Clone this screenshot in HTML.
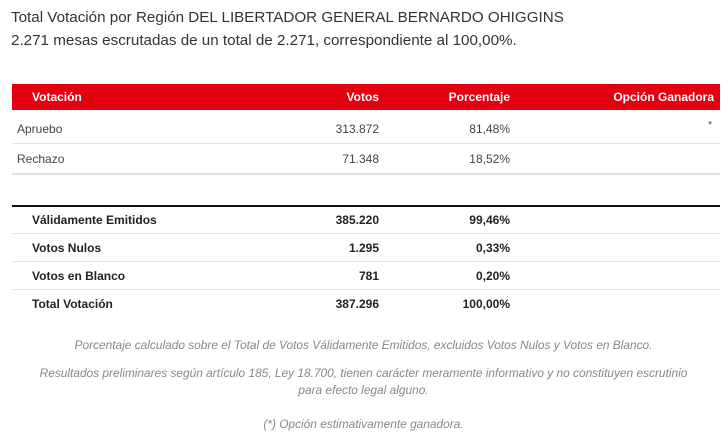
<!DOCTYPE html>
<html><head><meta charset="utf-8"><style>
body{margin:0;width:727px;height:441px;background:#fff;position:relative;overflow:hidden;font-family:"Liberation Sans",sans-serif;}
.a{position:absolute;white-space:nowrap;}
.t{font-size:15.2px;color:#333;left:11px;}
.h{top:84px;left:12px;width:708px;height:26px;background:#e3000f;}
.hd{color:#fff;font-weight:bold;font-size:12px;top:90px;}
.c{font-size:12px;color:#444;}
.b{font-size:12px;color:#222;font-weight:bold;}
.r{text-align:right;}
.ln{position:absolute;left:12px;width:708px;height:1px;background:#e2e2e2;}
.n{font-style:italic;font-size:11.9px;color:#888;width:727px;left:0;text-align:center;}
</style></head><body>
<div class="a t" style="top:9px">Total Votación por Región DEL LIBERTADOR GENERAL BERNARDO OHIGGINS</div>
<div class="a t" style="top:32px">2.271 mesas escrutadas de un total de 2.271, correspondiente al 100,00%.</div>
<div class="a h"></div>
<div class="a hd" style="left:32px">Votación</div>
<div class="a hd r" style="right:348px">Votos</div>
<div class="a hd r" style="right:217px">Porcentaje</div>
<div class="a hd r" style="right:13px">Opción Ganadora</div>

<div class="a c" style="left:17px;top:122px">Apruebo</div>
<div class="a c r" style="right:348px;top:122px">313.872</div>
<div class="a c r" style="right:217px;top:122px">81,48%</div>
<div class="a c r" style="right:15px;top:120px;font-size:10px">*</div>
<div class="ln" style="top:143px"></div>
<div class="a c" style="left:17px;top:152px">Rechazo</div>
<div class="a c r" style="right:348px;top:152px">71.348</div>
<div class="a c r" style="right:217px;top:152px">18,52%</div>
<div class="ln" style="top:173px;height:2px"></div>

<div class="ln" style="top:205px;height:2px;background:#111"></div>
<div class="a b" style="left:32px;top:213px">Válidamente Emitidos</div>
<div class="a b r" style="right:348px;top:213px">385.220</div>
<div class="a b r" style="right:217px;top:213px">99,46%</div>
<div class="ln" style="top:233px"></div>
<div class="a b" style="left:32px;top:241px">Votos Nulos</div>
<div class="a b r" style="right:348px;top:241px">1.295</div>
<div class="a b r" style="right:217px;top:241px">0,33%</div>
<div class="ln" style="top:261px"></div>
<div class="a b" style="left:32px;top:269px">Votos en Blanco</div>
<div class="a b r" style="right:348px;top:269px">781</div>
<div class="a b r" style="right:217px;top:269px">0,20%</div>
<div class="ln" style="top:289px"></div>
<div class="a b" style="left:32px;top:297px">Total Votación</div>
<div class="a b r" style="right:348px;top:297px">387.296</div>
<div class="a b r" style="right:217px;top:297px">100,00%</div>

<div class="a n" style="top:338px">Porcentaje calculado sobre el Total de Votos Válidamente Emitidos, excluidos Votos Nulos y Votos en Blanco.</div>
<div class="a n" style="top:366px">Resultados preliminares según artículo 185, Ley 18.700, tienen carácter meramente informativo y no constituyen escrutinio</div>
<div class="a n" style="top:383px">para efecto legal alguno.</div>
<div class="a n" style="top:417px">(*) Opción estimativamente ganadora.</div>
</body></html>
